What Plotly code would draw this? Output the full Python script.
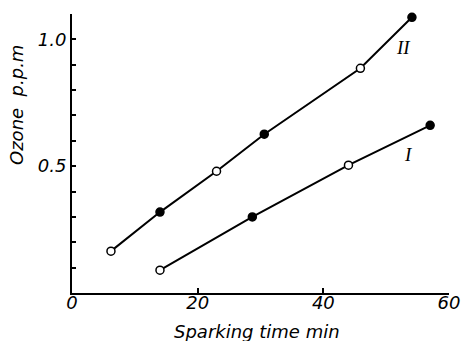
import plotly.graph_objects as go

# Series II (upper curve)
x_ii = [6.2, 14.0, 23.0, 30.6, 45.9, 54.1]
y_ii = [0.165, 0.319, 0.48, 0.626, 0.886, 1.087]
filled_ii = [False, True, False, True, False, True]

# Series I (lower curve)
x_i = [14.0, 28.7, 44.0, 57.0]
y_i = [0.09, 0.30, 0.504, 0.661]
filled_i = [False, True, False, True]

x_tickvals = [0, 20, 40, 60]
x_ticktext = ["0", "20", "40", "60"]
y_tickvals = [0.1, 0.2, 0.3, 0.4, 0.5, 0.6, 0.7, 0.8, 0.9, 1.0]
y_ticktext = ["", "", "", "", "0.5", "", "", "", "", "1.0"]

font_family = "DejaVu Sans"

fig = go.Figure()
for xs, ys, fl in [(x_ii, y_ii, filled_ii), (x_i, y_i, filled_i)]:
    fig.add_trace(go.Scatter(
        x=xs, y=ys, mode="lines+markers",
        line=dict(color="black", width=2),
        marker=dict(size=8, symbol="circle",
                    color=["black" if f else "white" for f in fl],
                    line=dict(color="black", width=1.5)),
        showlegend=False, cliponaxis=False, hoverinfo="skip",
    ))

L, R, T, B = 72, 14, 14, 48
PW, PH = 463 - L - R, 341 - T - B

fig.update_layout(
    width=463, height=341,
    margin=dict(l=L, r=R, t=T, b=B, autoexpand=False),
    plot_bgcolor="white", paper_bgcolor="white",
    annotations=[
        dict(x=52.8, y=0.966, text="II", showarrow=False,
             font=dict(family="Liberation Serif", size=19, style="italic", color="black")),
        dict(x=53.5, y=0.548, text="I", showarrow=False,
             font=dict(family="Liberation Serif", size=19, style="italic", color="black")),
        dict(x=(257 - L) / PW, y=-(331 - 293) / PH, xref="paper", yref="paper",
             text="Sparking time min", showarrow=False,
             xanchor="center", yanchor="middle",
             font=dict(family=font_family, size=18, style="italic", color="black")),
        dict(x=-(L - 17) / PW, y=(293 - 105) / PH, xref="paper", yref="paper",
             text="Ozone  p.p.m", textangle=-90, showarrow=False,
             xanchor="center", yanchor="middle",
             font=dict(family=font_family, size=18, style="italic", color="black")),
    ],
)
fig.update_xaxes(range=[0, 60], showgrid=False, zeroline=False, automargin=False,
                 showline=True, linecolor="black", linewidth=2,
                 ticks="inside", ticklen=5, tickwidth=1.5, tickcolor="black",
                 tickvals=x_tickvals, ticktext=x_ticktext, ticklabelstandoff=-8,
                 tickfont=dict(family=font_family, size=18, style="italic", color="black"))
fig.update_yaxes(range=[0, 1.1], showgrid=False, zeroline=False, automargin=False,
                 showline=True, linecolor="black", linewidth=2,
                 ticks="inside", ticklen=4, tickwidth=1.5, tickcolor="black",
                 tickvals=y_tickvals, ticktext=y_ticktext,
                 tickfont=dict(family=font_family, size=18, style="italic", color="black"))

fig.write_html("out.html", config={"displayModeBar": False},
               post_script="document.body.style.margin='0';")
